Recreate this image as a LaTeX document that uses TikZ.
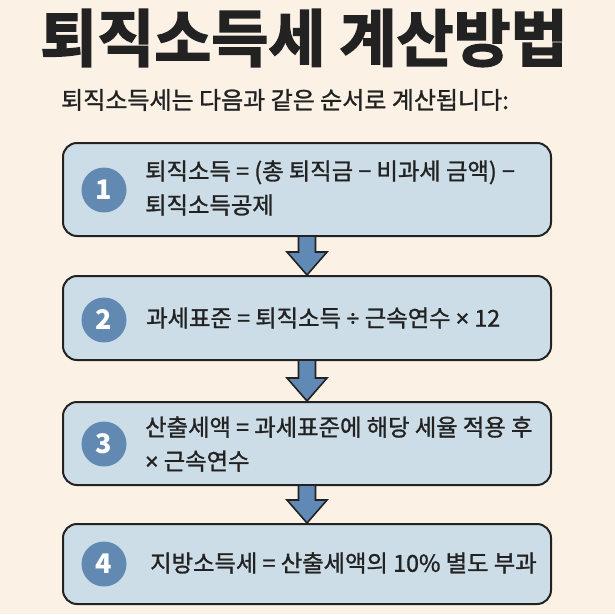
\documentclass[tikz,border=0pt]{standalone}
\usepackage{fontspec}
\setmainfont{Noto Sans CJK KR}
\newfontfamily\titlefont[FakeBold=2.5]{Noto Sans CJK KR Bold}
\newfontfamily\medfont[FakeBold=1.2]{Noto Sans CJK KR}
\newfontfamily\opsymfont[FakeBold=1.2]{Noto Sans}
\newcommand{\opsym}[1]{{\opsymfont #1}}
\usetikzlibrary{calc}
\definecolor{bgcol}{HTML}{FBF2E5}
\definecolor{boxfill}{HTML}{CCDDE7}
\definecolor{circfill}{HTML}{6189B2}
\definecolor{arrfill}{HTML}{6089B5}
\definecolor{ink}{HTML}{222222}
\tikzset{
  stepbox/.style={draw=ink, line width=2pt, fill=boxfill, rounded corners=14pt,
    minimum width=488pt, inner sep=0pt},
  numcirc/.style={circle, fill=circfill, minimum size=45pt, inner sep=0pt,
    text=white, font=\bfseries\fontsize{27}{27}\selectfont},
  steptext/.style={anchor=west, align=left, inner sep=0pt, text=ink,
    font=\medfont\fontsize{23.3}{34}\selectfont},
  blockarrow/.style={draw=ink, line width=1.6pt, fill=arrfill, line join=miter}
}
\newcommand{\blockarr}[2]{%
  \path let \p1=(#1.south), \p2=(#2.north) in
    coordinate (s1) at (\x1-8.5pt,\y1)
    coordinate (s2) at (\x1+8.5pt,\y1)
    coordinate (h1) at (\x1-20pt,\y2+23pt)
    coordinate (h2) at (\x1+20pt,\y2+23pt)
    coordinate (k1) at (\x1-8.5pt,\y2+23pt)
    coordinate (k2) at (\x1+8.5pt,\y2+23pt)
    coordinate (tp) at (\x1,\y2);
  \draw[blockarrow] (s1) -- (k1) -- (h1) -- (tp) -- (h2) -- (k2) -- (s2);
}
\begin{document}
\begin{tikzpicture}[x=1pt,y=-1pt]
\path[fill=bgcol, use as bounding box] (0,0) rectangle (615,614);

\node[font=\titlefont\fontsize{62}{62}\selectfont, text=ink, inner sep=0pt] (title) at (304,38) {퇴직소득세 계산방법};
\node[font=\medfont\fontsize{24}{24}\selectfont, text=ink, anchor=west, inner sep=0pt] (sub) at (61,100) {퇴직소득세는 다음과 같은 순서로 계산됩니다:};

\node[stepbox, minimum height=93pt] (b1) at (307,189.5) {};
\node[stepbox, minimum height=84pt] (b2) at (307,318) {};
\node[stepbox, minimum height=83pt] (b3) at (307,443.5) {};
\node[stepbox, minimum height=80pt] (b4) at (307,564) {};

\node[numcirc] (c1) at (104,190) {1};
\node[numcirc] (c2) at (104,320) {2};
\node[numcirc] (c3) at (104,444) {3};
\node[numcirc] (c4) at (104,564) {4};

\node[steptext] (t1) at (145,188) {퇴직소득 = (총 퇴직금 − 비과세 금액) −\\퇴직소득공제};
\node[steptext] (t2) at (146,318) {과세표준 = 퇴직소득 \opsym{÷} 근속연수 \opsym{×} 12};
\node[steptext] (t3) at (145,444) {산출세액 = 과세표준에 해당 세율 적용 후\\\opsym{×} 근속연수};
\node[steptext] (t4) at (150,563) {지방소득세 = 산출세액의 10\% 별도 부과};

\blockarr{b1}{b2}
\blockarr{b2}{b3}
\blockarr{b3}{b4}
\end{tikzpicture}
\end{document}
